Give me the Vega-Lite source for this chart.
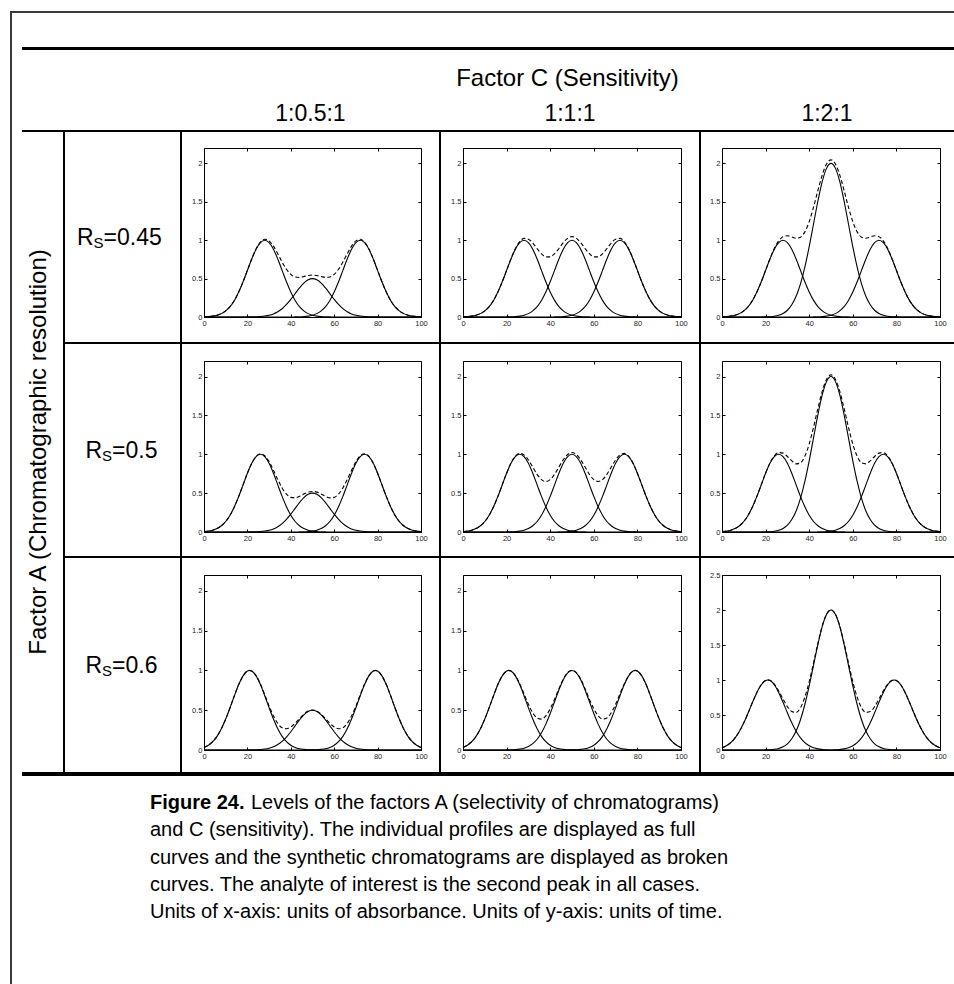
{
"$schema": "https://vega.github.io/schema/vega-lite/v6.json",
"padding": {"left": 10, "top": 11, "right": 0, "bottom": 0},
"background": "white",
"config": {
  "view": {"stroke": null},
  "concat": {"spacing": 0},
  "text": {"font": "Liberation Sans", "color": "black"},
  "axis": {"grid": false, "domainColor": "black", "domainWidth": 1, "tickColor": "black", "tickWidth": 1, "tickSize": -3, "labelFont": "Liberation Sans", "labelFontSize": 7.5, "labelColor": "#222", "labelPadding": 5, "labelFlush": false, "labelOverlap": false, "labelBound": false, "labelExpr": "'' + datum.value"}
},
"datasets": {"curves": [
{"r":1,"x":0,"a":0.002,"c":0,"m1":0,"m2":0,"m3":0,"s1":0.002,"s2":0.002,"s3":0.002},
{"r":1,"x":2,"a":0.005,"c":0,"m1":0,"m2":0,"m3":0,"s1":0.005,"s2":0.005,"s3":0.005},
{"r":1,"x":4,"a":0.011,"c":0,"m1":0,"m2":0,"m3":0,"s1":0.011,"s2":0.011,"s3":0.011},
{"r":1,"x":6,"a":0.023,"c":0,"m1":0,"m2":0,"m3":0,"s1":0.023,"s2":0.023,"s3":0.023},
{"r":1,"x":8,"a":0.044,"c":0,"m1":0,"m2":0,"m3":0,"s1":0.044,"s2":0.044,"s3":0.044},
{"r":1,"x":10,"a":0.08,"c":0,"m1":0,"m2":0,"m3":0,"s1":0.08,"s2":0.08,"s3":0.08},
{"r":1,"x":12,"a":0.135,"c":0,"m1":0,"m2":0,"m3":0,"s1":0.135,"s2":0.135,"s3":0.135},
{"r":1,"x":14,"a":0.216,"c":0,"m1":0,"m2":0,"m3":0,"s1":0.216,"s2":0.216,"s3":0.216},
{"r":1,"x":16,"a":0.325,"c":0,"m1":0,"m2":0,"m3":0,"s1":0.325,"s2":0.325,"s3":0.325},
{"r":1,"x":18,"a":0.458,"c":0,"m1":0,"m2":0,"m3":0,"s1":0.458,"s2":0.458,"s3":0.458},
{"r":1,"x":20,"a":0.607,"c":0,"m1":0.001,"m2":0.001,"m3":0.002,"s1":0.608,"s2":0.608,"s3":0.609},
{"r":1,"x":22,"a":0.755,"c":0,"m1":0.001,"m2":0.002,"m3":0.004,"s1":0.756,"s2":0.757,"s3":0.759},
{"r":1,"x":24,"a":0.883,"c":0,"m1":0.003,"m2":0.005,"m3":0.01,"s1":0.886,"s2":0.888,"s3":0.893},
{"r":1,"x":26,"a":0.969,"c":0,"m1":0.006,"m2":0.011,"m3":0.022,"s1":0.975,"s2":0.98,"s3":0.991},
{"r":1,"x":28,"a":1,"c":0,"m1":0.012,"m2":0.023,"m3":0.046,"s1":1.012,"s2":1.023,"s3":1.046},
{"r":1,"x":30,"a":0.969,"c":0,"m1":0.022,"m2":0.044,"m3":0.088,"s1":0.991,"s2":1.013,"s3":1.057},
{"r":1,"x":32,"a":0.883,"c":0,"m1":0.04,"m2":0.08,"m3":0.16,"s1":0.923,"s2":0.963,"s3":1.043},
{"r":1,"x":34,"a":0.755,"c":0,"m1":0.068,"m2":0.135,"m3":0.27,"s1":0.823,"s2":0.89,"s3":1.025},
{"r":1,"x":36,"a":0.607,"c":0,"m1":0.108,"m2":0.216,"m3":0.432,"s1":0.715,"s2":0.823,"s3":1.039},
{"r":1,"x":38,"a":0.458,"c":0,"m1":0.163,"m2":0.325,"m3":0.65,"s1":0.621,"s2":0.783,"s3":1.108},
{"r":1,"x":40,"a":0.325,"c":0,"m1":0.229,"m2":0.458,"m3":0.916,"s1":0.554,"s2":0.783,"s3":1.241},
{"r":1,"x":42,"a":0.216,"c":0.001,"m1":0.304,"m2":0.607,"m3":1.214,"s1":0.521,"s2":0.824,"s3":1.431},
{"r":1,"x":44,"a":0.135,"c":0.002,"m1":0.378,"m2":0.755,"m3":1.51,"s1":0.515,"s2":0.892,"s3":1.647},
{"r":1,"x":46,"a":0.08,"c":0.005,"m1":0.442,"m2":0.883,"m3":1.766,"s1":0.527,"s2":0.968,"s3":1.851},
{"r":1,"x":48,"a":0.044,"c":0.011,"m1":0.485,"m2":0.969,"m3":1.938,"s1":0.54,"s2":1.024,"s3":1.993},
{"r":1,"x":50,"a":0.023,"c":0.023,"m1":0.5,"m2":1,"m3":2,"s1":0.546,"s2":1.046,"s3":2.046},
{"r":1,"x":52,"a":0.011,"c":0.044,"m1":0.485,"m2":0.969,"m3":1.938,"s1":0.54,"s2":1.024,"s3":1.993},
{"r":1,"x":54,"a":0.005,"c":0.08,"m1":0.442,"m2":0.883,"m3":1.766,"s1":0.527,"s2":0.968,"s3":1.851},
{"r":1,"x":56,"a":0.002,"c":0.135,"m1":0.378,"m2":0.755,"m3":1.51,"s1":0.515,"s2":0.892,"s3":1.647},
{"r":1,"x":58,"a":0.001,"c":0.216,"m1":0.304,"m2":0.607,"m3":1.214,"s1":0.521,"s2":0.824,"s3":1.431},
{"r":1,"x":60,"a":0,"c":0.325,"m1":0.229,"m2":0.458,"m3":0.916,"s1":0.554,"s2":0.783,"s3":1.241},
{"r":1,"x":62,"a":0,"c":0.458,"m1":0.163,"m2":0.325,"m3":0.65,"s1":0.621,"s2":0.783,"s3":1.108},
{"r":1,"x":64,"a":0,"c":0.607,"m1":0.108,"m2":0.216,"m3":0.432,"s1":0.715,"s2":0.823,"s3":1.039},
{"r":1,"x":66,"a":0,"c":0.755,"m1":0.068,"m2":0.135,"m3":0.27,"s1":0.823,"s2":0.89,"s3":1.025},
{"r":1,"x":68,"a":0,"c":0.883,"m1":0.04,"m2":0.08,"m3":0.16,"s1":0.923,"s2":0.963,"s3":1.043},
{"r":1,"x":70,"a":0,"c":0.969,"m1":0.022,"m2":0.044,"m3":0.088,"s1":0.991,"s2":1.013,"s3":1.057},
{"r":1,"x":72,"a":0,"c":1,"m1":0.012,"m2":0.023,"m3":0.046,"s1":1.012,"s2":1.023,"s3":1.046},
{"r":1,"x":74,"a":0,"c":0.969,"m1":0.006,"m2":0.011,"m3":0.022,"s1":0.975,"s2":0.98,"s3":0.991},
{"r":1,"x":76,"a":0,"c":0.883,"m1":0.003,"m2":0.005,"m3":0.01,"s1":0.886,"s2":0.888,"s3":0.893},
{"r":1,"x":78,"a":0,"c":0.755,"m1":0.001,"m2":0.002,"m3":0.004,"s1":0.756,"s2":0.757,"s3":0.759},
{"r":1,"x":80,"a":0,"c":0.607,"m1":0.001,"m2":0.001,"m3":0.002,"s1":0.608,"s2":0.608,"s3":0.609},
{"r":1,"x":82,"a":0,"c":0.458,"m1":0,"m2":0,"m3":0,"s1":0.458,"s2":0.458,"s3":0.458},
{"r":1,"x":84,"a":0,"c":0.325,"m1":0,"m2":0,"m3":0,"s1":0.325,"s2":0.325,"s3":0.325},
{"r":1,"x":86,"a":0,"c":0.216,"m1":0,"m2":0,"m3":0,"s1":0.216,"s2":0.216,"s3":0.216},
{"r":1,"x":88,"a":0,"c":0.135,"m1":0,"m2":0,"m3":0,"s1":0.135,"s2":0.135,"s3":0.135},
{"r":1,"x":90,"a":0,"c":0.08,"m1":0,"m2":0,"m3":0,"s1":0.08,"s2":0.08,"s3":0.08},
{"r":1,"x":92,"a":0,"c":0.044,"m1":0,"m2":0,"m3":0,"s1":0.044,"s2":0.044,"s3":0.044},
{"r":1,"x":94,"a":0,"c":0.023,"m1":0,"m2":0,"m3":0,"s1":0.023,"s2":0.023,"s3":0.023},
{"r":1,"x":96,"a":0,"c":0.011,"m1":0,"m2":0,"m3":0,"s1":0.011,"s2":0.011,"s3":0.011},
{"r":1,"x":98,"a":0,"c":0.005,"m1":0,"m2":0,"m3":0,"s1":0.005,"s2":0.005,"s3":0.005},
{"r":1,"x":100,"a":0,"c":0.002,"m1":0,"m2":0,"m3":0,"s1":0.002,"s2":0.002,"s3":0.002},
{"r":2,"x":0,"a":0.005,"c":0,"m1":0,"m2":0,"m3":0,"s1":0.005,"s2":0.005,"s3":0.005},
{"r":2,"x":2,"a":0.011,"c":0,"m1":0,"m2":0,"m3":0,"s1":0.011,"s2":0.011,"s3":0.011},
{"r":2,"x":4,"a":0.023,"c":0,"m1":0,"m2":0,"m3":0,"s1":0.023,"s2":0.023,"s3":0.023},
{"r":2,"x":6,"a":0.044,"c":0,"m1":0,"m2":0,"m3":0,"s1":0.044,"s2":0.044,"s3":0.044},
{"r":2,"x":8,"a":0.08,"c":0,"m1":0,"m2":0,"m3":0,"s1":0.08,"s2":0.08,"s3":0.08},
{"r":2,"x":10,"a":0.135,"c":0,"m1":0,"m2":0,"m3":0,"s1":0.135,"s2":0.135,"s3":0.135},
{"r":2,"x":12,"a":0.216,"c":0,"m1":0,"m2":0,"m3":0,"s1":0.216,"s2":0.216,"s3":0.216},
{"r":2,"x":14,"a":0.325,"c":0,"m1":0,"m2":0,"m3":0,"s1":0.325,"s2":0.325,"s3":0.325},
{"r":2,"x":16,"a":0.458,"c":0,"m1":0,"m2":0,"m3":0,"s1":0.458,"s2":0.458,"s3":0.458},
{"r":2,"x":18,"a":0.607,"c":0,"m1":0,"m2":0,"m3":0,"s1":0.607,"s2":0.607,"s3":0.607},
{"r":2,"x":20,"a":0.755,"c":0,"m1":0.001,"m2":0.001,"m3":0.002,"s1":0.756,"s2":0.756,"s3":0.757},
{"r":2,"x":22,"a":0.883,"c":0,"m1":0.001,"m2":0.002,"m3":0.004,"s1":0.884,"s2":0.885,"s3":0.887},
{"r":2,"x":24,"a":0.969,"c":0,"m1":0.003,"m2":0.005,"m3":0.01,"s1":0.972,"s2":0.974,"s3":0.979},
{"r":2,"x":26,"a":1,"c":0,"m1":0.006,"m2":0.011,"m3":0.022,"s1":1.006,"s2":1.011,"s3":1.022},
{"r":2,"x":28,"a":0.969,"c":0,"m1":0.012,"m2":0.023,"m3":0.046,"s1":0.981,"s2":0.992,"s3":1.015},
{"r":2,"x":30,"a":0.883,"c":0,"m1":0.022,"m2":0.044,"m3":0.088,"s1":0.905,"s2":0.927,"s3":0.971},
{"r":2,"x":32,"a":0.755,"c":0,"m1":0.04,"m2":0.08,"m3":0.16,"s1":0.795,"s2":0.835,"s3":0.915},
{"r":2,"x":34,"a":0.607,"c":0,"m1":0.068,"m2":0.135,"m3":0.27,"s1":0.675,"s2":0.742,"s3":0.877},
{"r":2,"x":36,"a":0.458,"c":0,"m1":0.108,"m2":0.216,"m3":0.432,"s1":0.566,"s2":0.674,"s3":0.89},
{"r":2,"x":38,"a":0.325,"c":0,"m1":0.163,"m2":0.325,"m3":0.65,"s1":0.488,"s2":0.65,"s3":0.975},
{"r":2,"x":40,"a":0.216,"c":0,"m1":0.229,"m2":0.458,"m3":0.916,"s1":0.445,"s2":0.674,"s3":1.132},
{"r":2,"x":42,"a":0.135,"c":0,"m1":0.304,"m2":0.607,"m3":1.214,"s1":0.439,"s2":0.742,"s3":1.349},
{"r":2,"x":44,"a":0.08,"c":0.001,"m1":0.378,"m2":0.755,"m3":1.51,"s1":0.459,"s2":0.836,"s3":1.591},
{"r":2,"x":46,"a":0.044,"c":0.002,"m1":0.442,"m2":0.883,"m3":1.766,"s1":0.488,"s2":0.929,"s3":1.812},
{"r":2,"x":48,"a":0.023,"c":0.005,"m1":0.485,"m2":0.969,"m3":1.938,"s1":0.513,"s2":0.997,"s3":1.966},
{"r":2,"x":50,"a":0.011,"c":0.011,"m1":0.5,"m2":1,"m3":2,"s1":0.522,"s2":1.022,"s3":2.022},
{"r":2,"x":52,"a":0.005,"c":0.023,"m1":0.485,"m2":0.969,"m3":1.938,"s1":0.513,"s2":0.997,"s3":1.966},
{"r":2,"x":54,"a":0.002,"c":0.044,"m1":0.442,"m2":0.883,"m3":1.766,"s1":0.488,"s2":0.929,"s3":1.812},
{"r":2,"x":56,"a":0.001,"c":0.08,"m1":0.378,"m2":0.755,"m3":1.51,"s1":0.459,"s2":0.836,"s3":1.591},
{"r":2,"x":58,"a":0,"c":0.135,"m1":0.304,"m2":0.607,"m3":1.214,"s1":0.439,"s2":0.742,"s3":1.349},
{"r":2,"x":60,"a":0,"c":0.216,"m1":0.229,"m2":0.458,"m3":0.916,"s1":0.445,"s2":0.674,"s3":1.132},
{"r":2,"x":62,"a":0,"c":0.325,"m1":0.163,"m2":0.325,"m3":0.65,"s1":0.488,"s2":0.65,"s3":0.975},
{"r":2,"x":64,"a":0,"c":0.458,"m1":0.108,"m2":0.216,"m3":0.432,"s1":0.566,"s2":0.674,"s3":0.89},
{"r":2,"x":66,"a":0,"c":0.607,"m1":0.068,"m2":0.135,"m3":0.27,"s1":0.675,"s2":0.742,"s3":0.877},
{"r":2,"x":68,"a":0,"c":0.755,"m1":0.04,"m2":0.08,"m3":0.16,"s1":0.795,"s2":0.835,"s3":0.915},
{"r":2,"x":70,"a":0,"c":0.883,"m1":0.022,"m2":0.044,"m3":0.088,"s1":0.905,"s2":0.927,"s3":0.971},
{"r":2,"x":72,"a":0,"c":0.969,"m1":0.012,"m2":0.023,"m3":0.046,"s1":0.981,"s2":0.992,"s3":1.015},
{"r":2,"x":74,"a":0,"c":1,"m1":0.006,"m2":0.011,"m3":0.022,"s1":1.006,"s2":1.011,"s3":1.022},
{"r":2,"x":76,"a":0,"c":0.969,"m1":0.003,"m2":0.005,"m3":0.01,"s1":0.972,"s2":0.974,"s3":0.979},
{"r":2,"x":78,"a":0,"c":0.883,"m1":0.001,"m2":0.002,"m3":0.004,"s1":0.884,"s2":0.885,"s3":0.887},
{"r":2,"x":80,"a":0,"c":0.755,"m1":0.001,"m2":0.001,"m3":0.002,"s1":0.756,"s2":0.756,"s3":0.757},
{"r":2,"x":82,"a":0,"c":0.607,"m1":0,"m2":0,"m3":0,"s1":0.607,"s2":0.607,"s3":0.607},
{"r":2,"x":84,"a":0,"c":0.458,"m1":0,"m2":0,"m3":0,"s1":0.458,"s2":0.458,"s3":0.458},
{"r":2,"x":86,"a":0,"c":0.325,"m1":0,"m2":0,"m3":0,"s1":0.325,"s2":0.325,"s3":0.325},
{"r":2,"x":88,"a":0,"c":0.216,"m1":0,"m2":0,"m3":0,"s1":0.216,"s2":0.216,"s3":0.216},
{"r":2,"x":90,"a":0,"c":0.135,"m1":0,"m2":0,"m3":0,"s1":0.135,"s2":0.135,"s3":0.135},
{"r":2,"x":92,"a":0,"c":0.08,"m1":0,"m2":0,"m3":0,"s1":0.08,"s2":0.08,"s3":0.08},
{"r":2,"x":94,"a":0,"c":0.044,"m1":0,"m2":0,"m3":0,"s1":0.044,"s2":0.044,"s3":0.044},
{"r":2,"x":96,"a":0,"c":0.023,"m1":0,"m2":0,"m3":0,"s1":0.023,"s2":0.023,"s3":0.023},
{"r":2,"x":98,"a":0,"c":0.011,"m1":0,"m2":0,"m3":0,"s1":0.011,"s2":0.011,"s3":0.011},
{"r":2,"x":100,"a":0,"c":0.005,"m1":0,"m2":0,"m3":0,"s1":0.005,"s2":0.005,"s3":0.005},
{"r":3,"x":0,"a":0.032,"c":0,"m1":0,"m2":0,"m3":0,"s1":0.032,"s2":0.032,"s3":0.032},
{"r":3,"x":2,"a":0.06,"c":0,"m1":0,"m2":0,"m3":0,"s1":0.06,"s2":0.06,"s3":0.06},
{"r":3,"x":4,"a":0.105,"c":0,"m1":0,"m2":0,"m3":0,"s1":0.105,"s2":0.105,"s3":0.105},
{"r":3,"x":6,"a":0.172,"c":0,"m1":0,"m2":0,"m3":0,"s1":0.172,"s2":0.172,"s3":0.172},
{"r":3,"x":8,"a":0.267,"c":0,"m1":0,"m2":0,"m3":0,"s1":0.267,"s2":0.267,"s3":0.267},
{"r":3,"x":10,"a":0.389,"c":0,"m1":0,"m2":0,"m3":0,"s1":0.389,"s2":0.389,"s3":0.389},
{"r":3,"x":12,"a":0.531,"c":0,"m1":0,"m2":0,"m3":0,"s1":0.531,"s2":0.531,"s3":0.531},
{"r":3,"x":14,"a":0.682,"c":0,"m1":0,"m2":0,"m3":0,"s1":0.682,"s2":0.682,"s3":0.682},
{"r":3,"x":16,"a":0.823,"c":0,"m1":0,"m2":0,"m3":0,"s1":0.823,"s2":0.823,"s3":0.823},
{"r":3,"x":18,"a":0.932,"c":0,"m1":0,"m2":0,"m3":0,"s1":0.932,"s2":0.932,"s3":0.932},
{"r":3,"x":20,"a":0.992,"c":0,"m1":0.001,"m2":0.001,"m3":0.002,"s1":0.993,"s2":0.993,"s3":0.994},
{"r":3,"x":21,"a":1,"c":0,"m1":0.001,"m2":0.001,"m3":0.002,"s1":1.001,"s2":1.001,"s3":1.002},
{"r":3,"x":22,"a":0.992,"c":0,"m1":0.001,"m2":0.002,"m3":0.004,"s1":0.993,"s2":0.994,"s3":0.996},
{"r":3,"x":24,"a":0.932,"c":0,"m1":0.003,"m2":0.005,"m3":0.01,"s1":0.935,"s2":0.937,"s3":0.942},
{"r":3,"x":26,"a":0.823,"c":0,"m1":0.006,"m2":0.011,"m3":0.022,"s1":0.829,"s2":0.834,"s3":0.845},
{"r":3,"x":28,"a":0.682,"c":0,"m1":0.012,"m2":0.023,"m3":0.046,"s1":0.694,"s2":0.705,"s3":0.728},
{"r":3,"x":30,"a":0.531,"c":0,"m1":0.022,"m2":0.044,"m3":0.088,"s1":0.553,"s2":0.575,"s3":0.619},
{"r":3,"x":32,"a":0.389,"c":0,"m1":0.04,"m2":0.08,"m3":0.16,"s1":0.429,"s2":0.469,"s3":0.549},
{"r":3,"x":34,"a":0.267,"c":0,"m1":0.068,"m2":0.135,"m3":0.27,"s1":0.335,"s2":0.402,"s3":0.537},
{"r":3,"x":36,"a":0.172,"c":0,"m1":0.108,"m2":0.216,"m3":0.432,"s1":0.28,"s2":0.388,"s3":0.604},
{"r":3,"x":38,"a":0.105,"c":0,"m1":0.163,"m2":0.325,"m3":0.65,"s1":0.268,"s2":0.43,"s3":0.755},
{"r":3,"x":40,"a":0.06,"c":0,"m1":0.229,"m2":0.458,"m3":0.916,"s1":0.289,"s2":0.518,"s3":0.976},
{"r":3,"x":42,"a":0.032,"c":0,"m1":0.304,"m2":0.607,"m3":1.214,"s1":0.336,"s2":0.639,"s3":1.246},
{"r":3,"x":44,"a":0.016,"c":0,"m1":0.378,"m2":0.755,"m3":1.51,"s1":0.394,"s2":0.771,"s3":1.526},
{"r":3,"x":46,"a":0.008,"c":0,"m1":0.442,"m2":0.883,"m3":1.766,"s1":0.45,"s2":0.891,"s3":1.774},
{"r":3,"x":48,"a":0.003,"c":0.001,"m1":0.485,"m2":0.969,"m3":1.938,"s1":0.489,"s2":0.973,"s3":1.942},
{"r":3,"x":50,"a":0.001,"c":0.001,"m1":0.5,"m2":1,"m3":2,"s1":0.502,"s2":1.002,"s3":2.002},
{"r":3,"x":52,"a":0.001,"c":0.003,"m1":0.485,"m2":0.969,"m3":1.938,"s1":0.489,"s2":0.973,"s3":1.942},
{"r":3,"x":54,"a":0,"c":0.008,"m1":0.442,"m2":0.883,"m3":1.766,"s1":0.45,"s2":0.891,"s3":1.774},
{"r":3,"x":56,"a":0,"c":0.016,"m1":0.378,"m2":0.755,"m3":1.51,"s1":0.394,"s2":0.771,"s3":1.526},
{"r":3,"x":58,"a":0,"c":0.032,"m1":0.304,"m2":0.607,"m3":1.214,"s1":0.336,"s2":0.639,"s3":1.246},
{"r":3,"x":60,"a":0,"c":0.06,"m1":0.229,"m2":0.458,"m3":0.916,"s1":0.289,"s2":0.518,"s3":0.976},
{"r":3,"x":62,"a":0,"c":0.105,"m1":0.163,"m2":0.325,"m3":0.65,"s1":0.268,"s2":0.43,"s3":0.755},
{"r":3,"x":64,"a":0,"c":0.172,"m1":0.108,"m2":0.216,"m3":0.432,"s1":0.28,"s2":0.388,"s3":0.604},
{"r":3,"x":66,"a":0,"c":0.267,"m1":0.068,"m2":0.135,"m3":0.27,"s1":0.335,"s2":0.402,"s3":0.537},
{"r":3,"x":68,"a":0,"c":0.389,"m1":0.04,"m2":0.08,"m3":0.16,"s1":0.429,"s2":0.469,"s3":0.549},
{"r":3,"x":70,"a":0,"c":0.531,"m1":0.022,"m2":0.044,"m3":0.088,"s1":0.553,"s2":0.575,"s3":0.619},
{"r":3,"x":72,"a":0,"c":0.682,"m1":0.012,"m2":0.023,"m3":0.046,"s1":0.694,"s2":0.705,"s3":0.728},
{"r":3,"x":74,"a":0,"c":0.823,"m1":0.006,"m2":0.011,"m3":0.022,"s1":0.829,"s2":0.834,"s3":0.845},
{"r":3,"x":76,"a":0,"c":0.932,"m1":0.003,"m2":0.005,"m3":0.01,"s1":0.935,"s2":0.937,"s3":0.942},
{"r":3,"x":78,"a":0,"c":0.992,"m1":0.001,"m2":0.002,"m3":0.004,"s1":0.993,"s2":0.994,"s3":0.996},
{"r":3,"x":79,"a":0,"c":1,"m1":0.001,"m2":0.001,"m3":0.002,"s1":1.001,"s2":1.001,"s3":1.002},
{"r":3,"x":80,"a":0,"c":0.992,"m1":0.001,"m2":0.001,"m3":0.002,"s1":0.993,"s2":0.993,"s3":0.994},
{"r":3,"x":82,"a":0,"c":0.932,"m1":0,"m2":0,"m3":0,"s1":0.932,"s2":0.932,"s3":0.932},
{"r":3,"x":84,"a":0,"c":0.823,"m1":0,"m2":0,"m3":0,"s1":0.823,"s2":0.823,"s3":0.823},
{"r":3,"x":86,"a":0,"c":0.682,"m1":0,"m2":0,"m3":0,"s1":0.682,"s2":0.682,"s3":0.682},
{"r":3,"x":88,"a":0,"c":0.531,"m1":0,"m2":0,"m3":0,"s1":0.531,"s2":0.531,"s3":0.531},
{"r":3,"x":90,"a":0,"c":0.389,"m1":0,"m2":0,"m3":0,"s1":0.389,"s2":0.389,"s3":0.389},
{"r":3,"x":92,"a":0,"c":0.267,"m1":0,"m2":0,"m3":0,"s1":0.267,"s2":0.267,"s3":0.267},
{"r":3,"x":94,"a":0,"c":0.172,"m1":0,"m2":0,"m3":0,"s1":0.172,"s2":0.172,"s3":0.172},
{"r":3,"x":96,"a":0,"c":0.105,"m1":0,"m2":0,"m3":0,"s1":0.105,"s2":0.105,"s3":0.105},
{"r":3,"x":98,"a":0,"c":0.06,"m1":0,"m2":0,"m3":0,"s1":0.06,"s2":0.06,"s3":0.06},
{"r":3,"x":100,"a":0,"c":0.032,"m1":0,"m2":0,"m3":0,"s1":0.032,"s2":0.032,"s3":0.032}
]},
"spacing": 0,
"hconcat": [
 {"width": 2, "height": 973, "data": {"values": []}, "mark": "text", "encoding": {"text": {"value": ""}}, "view": {"fill": "#3a3a3a", "stroke": null}},
 {"spacing": 0, "vconcat": [
  {"width": 942, "height": 2, "data": {"values": []}, "mark": "text", "encoding": {"text": {"value": ""}}, "view": {"fill": "#3a3a3a", "stroke": null}},
  {"width": 942, "height": 34, "data": {"values": []}, "mark": "text", "encoding": {"text": {"value": ""}}},
  {"spacing": 0, "hconcat": [
   {"width": 10, "height": 3, "data": {"values": []}, "mark": "text", "encoding": {"text": {"value": ""}}},
   {"width": 932, "height": 3, "data": {"values": []}, "mark": "text", "encoding": {"text": {"value": ""}}, "view": {"fill": "black", "stroke": null}}
  ]},
  {"spacing": 0, "hconcat": [
   {"width": 169, "height": 80, "data": {"values": []}, "mark": "text", "encoding": {"text": {"value": ""}}},
   {"spacing": 0, "vconcat": [
    {"width": 773, "height": 47, "data": {"values": [{"t": "Factor C (Sensitivity)"}]}, "mark": {"type": "text", "fontSize": 24, "baseline": "alphabetic", "dy": 12}, "encoding": {"text": {"field": "t"}}},
    {"spacing": 0, "hconcat": [
     {"width": 259, "height": 33, "data": {"values": [{"t": "1:0.5:1"}]}, "mark": {"type": "text", "fontSize": 23, "baseline": "alphabetic", "dy": 7.5}, "encoding": {"text": {"field": "t"}}},
     {"width": 260, "height": 33, "data": {"values": [{"t": "1:1:1"}]}, "mark": {"type": "text", "fontSize": 23, "baseline": "alphabetic", "dy": 7.5}, "encoding": {"text": {"field": "t"}}},
     {"width": 254, "height": 33, "data": {"values": [{"t": "1:2:1"}]}, "mark": {"type": "text", "fontSize": 23, "baseline": "alphabetic", "dy": 7.5}, "encoding": {"text": {"field": "t"}}}
    ]}
   ]}
  ]},
  {"spacing": 0, "hconcat": [
   {"width": 10, "height": 2, "data": {"values": []}, "mark": "text", "encoding": {"text": {"value": ""}}},
   {"width": 932, "height": 2, "data": {"values": []}, "mark": "text", "encoding": {"text": {"value": ""}}, "view": {"fill": "black", "stroke": null}}
  ]},
  {"spacing": 0, "hconcat": [
   {"width": 10, "height": 640, "data": {"values": []}, "mark": "text", "encoding": {"text": {"value": ""}}},
   {"width": 41, "height": 640, "data": {"values": [{"t": "Factor A (Chromatographic resolution)"}]}, "mark": {"type": "text", "fontSize": 24, "angle": 270, "baseline": "middle", "dy": -3.5}, "encoding": {"text": {"field": "t"}}},
   {"width": 2, "height": 640, "data": {"values": []}, "mark": "text", "encoding": {"text": {"value": ""}}, "view": {"fill": "black", "stroke": null}},
   {"spacing": 0, "vconcat": [
    {"spacing": 0, "hconcat": [
     {"width": 115, "height": 210, "data": {"values": [{"m": "R", "s": "S", "v": "=0.45"}]}, "layer": [
      {"mark": {"type": "text", "fontSize": 23, "align": "left", "baseline": "alphabetic", "dx": -45.5, "dy": 8}, "encoding": {"text": {"field": "m"}}},
      {"mark": {"type": "text", "fontSize": 15, "align": "left", "baseline": "alphabetic", "dx": -28.9, "dy": 11}, "encoding": {"text": {"field": "s"}}},
      {"mark": {"type": "text", "fontSize": 23, "align": "left", "baseline": "alphabetic", "dx": -18.9, "dy": 8}, "encoding": {"text": {"field": "v"}}}
     ]},
     {"width": 2, "height": 210, "data": {"values": []}, "mark": "text", "encoding": {"text": {"value": ""}}, "view": {"fill": "black", "stroke": null}},
     {"width": 257, "height": 210, "data": {"name": "curves"}, "transform": [{"filter": "datum.r == 1"}], "layer": [
      {"transform": [{"fold": ["a", "c", "m1"], "as": ["peak", "val"]}], "mark": {"type": "line", "color": "black", "strokeWidth": 1.1, "interpolate": "monotone"}, "encoding": {
        "x": {"field": "x", "type": "quantitative", "scale": {"domain": [0, 100], "range": [22, 239], "nice": false, "zero": false}, "axis": {"orient": "bottom", "offset": -25, "values": [0, 20, 40, 60, 80, 100], "title": null}},
        "y": {"field": "val", "type": "quantitative", "scale": {"domain": [0, 2.2], "range": [185, 16], "nice": false, "zero": false}, "axis": {"orient": "left", "offset": -22, "values": [0, 0.5, 1, 1.5, 2], "title": null}},
        "detail": {"field": "peak"}}},
      {"mark": {"type": "line", "color": "black", "strokeWidth": 1.1, "strokeDash": [4, 2.5], "interpolate": "monotone"}, "encoding": {
        "x": {"field": "x", "type": "quantitative", "scale": {"domain": [0, 100], "range": [22, 239], "nice": false, "zero": false}, "axis": {"orient": "top", "offset": -16, "values": [0, 20, 40, 60, 80, 100], "labels": false, "title": null}},
        "y": {"field": "s1", "type": "quantitative", "scale": {"domain": [0, 2.2], "range": [185, 16], "nice": false, "zero": false}, "axis": {"orient": "right", "offset": -18, "values": [0, 0.5, 1, 1.5, 2], "labels": false, "title": null}}}}
     ], "resolve": {"axis": {"x": "independent", "y": "independent"}}},
     {"width": 2, "height": 210, "data": {"values": []}, "mark": "text", "encoding": {"text": {"value": ""}}, "view": {"fill": "black", "stroke": null}},
     {"width": 258, "height": 210, "data": {"name": "curves"}, "transform": [{"filter": "datum.r == 1"}], "layer": [
      {"transform": [{"fold": ["a", "c", "m2"], "as": ["peak", "val"]}], "mark": {"type": "line", "color": "black", "strokeWidth": 1.1, "interpolate": "monotone"}, "encoding": {
        "x": {"field": "x", "type": "quantitative", "scale": {"domain": [0, 100], "range": [22, 240], "nice": false, "zero": false}, "axis": {"orient": "bottom", "offset": -25, "values": [0, 20, 40, 60, 80, 100], "title": null}},
        "y": {"field": "val", "type": "quantitative", "scale": {"domain": [0, 2.2], "range": [185, 16], "nice": false, "zero": false}, "axis": {"orient": "left", "offset": -22, "values": [0, 0.5, 1, 1.5, 2], "title": null}},
        "detail": {"field": "peak"}}},
      {"mark": {"type": "line", "color": "black", "strokeWidth": 1.1, "strokeDash": [4, 2.5], "interpolate": "monotone"}, "encoding": {
        "x": {"field": "x", "type": "quantitative", "scale": {"domain": [0, 100], "range": [22, 240], "nice": false, "zero": false}, "axis": {"orient": "top", "offset": -16, "values": [0, 20, 40, 60, 80, 100], "labels": false, "title": null}},
        "y": {"field": "s2", "type": "quantitative", "scale": {"domain": [0, 2.2], "range": [185, 16], "nice": false, "zero": false}, "axis": {"orient": "right", "offset": -18, "values": [0, 0.5, 1, 1.5, 2], "labels": false, "title": null}}}}
     ], "resolve": {"axis": {"x": "independent", "y": "independent"}}},
     {"width": 2, "height": 210, "data": {"values": []}, "mark": "text", "encoding": {"text": {"value": ""}}, "view": {"fill": "black", "stroke": null}},
     {"width": 253, "height": 210, "data": {"name": "curves"}, "transform": [{"filter": "datum.r == 1"}], "layer": [
      {"transform": [{"fold": ["a", "c", "m3"], "as": ["peak", "val"]}], "mark": {"type": "line", "color": "black", "strokeWidth": 1.1, "interpolate": "monotone"}, "encoding": {
        "x": {"field": "x", "type": "quantitative", "scale": {"domain": [0, 100], "range": [21, 239], "nice": false, "zero": false}, "axis": {"orient": "bottom", "offset": -25, "values": [0, 20, 40, 60, 80, 100], "title": null}},
        "y": {"field": "val", "type": "quantitative", "scale": {"domain": [0, 2.2], "range": [185, 16], "nice": false, "zero": false}, "axis": {"orient": "left", "offset": -21, "values": [0, 0.5, 1, 1.5, 2], "title": null}},
        "detail": {"field": "peak"}}},
      {"mark": {"type": "line", "color": "black", "strokeWidth": 1.1, "strokeDash": [4, 2.5], "interpolate": "monotone"}, "encoding": {
        "x": {"field": "x", "type": "quantitative", "scale": {"domain": [0, 100], "range": [21, 239], "nice": false, "zero": false}, "axis": {"orient": "top", "offset": -16, "values": [0, 20, 40, 60, 80, 100], "labels": false, "title": null}},
        "y": {"field": "s3", "type": "quantitative", "scale": {"domain": [0, 2.2], "range": [185, 16], "nice": false, "zero": false}, "axis": {"orient": "right", "offset": -14, "values": [0, 0.5, 1, 1.5, 2], "labels": false, "title": null}}}}
     ], "resolve": {"axis": {"x": "independent", "y": "independent"}}}
    ]},
    {"width": 889, "height": 2, "data": {"values": []}, "mark": "text", "encoding": {"text": {"value": ""}}, "view": {"fill": "black", "stroke": null}},
    {"spacing": 0, "hconcat": [
     {"width": 115, "height": 212, "data": {"values": [{"m": "R", "s": "S", "v": "=0.5"}]}, "layer": [
      {"mark": {"type": "text", "fontSize": 23, "align": "left", "baseline": "alphabetic", "dx": -37, "dy": 8}, "encoding": {"text": {"field": "m"}}},
      {"mark": {"type": "text", "fontSize": 15, "align": "left", "baseline": "alphabetic", "dx": -20.4, "dy": 11}, "encoding": {"text": {"field": "s"}}},
      {"mark": {"type": "text", "fontSize": 23, "align": "left", "baseline": "alphabetic", "dx": -10.4, "dy": 8}, "encoding": {"text": {"field": "v"}}}
     ]},
     {"width": 2, "height": 212, "data": {"values": []}, "mark": "text", "encoding": {"text": {"value": ""}}, "view": {"fill": "black", "stroke": null}},
     {"width": 257, "height": 212, "data": {"name": "curves"}, "transform": [{"filter": "datum.r == 2"}], "layer": [
      {"transform": [{"fold": ["a", "c", "m1"], "as": ["peak", "val"]}], "mark": {"type": "line", "color": "black", "strokeWidth": 1.1, "interpolate": "monotone"}, "encoding": {
        "x": {"field": "x", "type": "quantitative", "scale": {"domain": [0, 100], "range": [22, 239], "nice": false, "zero": false}, "axis": {"orient": "bottom", "offset": -24, "values": [0, 20, 40, 60, 80, 100], "title": null}},
        "y": {"field": "val", "type": "quantitative", "scale": {"domain": [0, 2.2], "range": [188, 17], "nice": false, "zero": false}, "axis": {"orient": "left", "offset": -22, "values": [0, 0.5, 1, 1.5, 2], "title": null}},
        "detail": {"field": "peak"}}},
      {"mark": {"type": "line", "color": "black", "strokeWidth": 1.1, "strokeDash": [4, 2.5], "interpolate": "monotone"}, "encoding": {
        "x": {"field": "x", "type": "quantitative", "scale": {"domain": [0, 100], "range": [22, 239], "nice": false, "zero": false}, "axis": {"orient": "top", "offset": -17, "values": [0, 20, 40, 60, 80, 100], "labels": false, "title": null}},
        "y": {"field": "s1", "type": "quantitative", "scale": {"domain": [0, 2.2], "range": [188, 17], "nice": false, "zero": false}, "axis": {"orient": "right", "offset": -18, "values": [0, 0.5, 1, 1.5, 2], "labels": false, "title": null}}}}
     ], "resolve": {"axis": {"x": "independent", "y": "independent"}}},
     {"width": 2, "height": 212, "data": {"values": []}, "mark": "text", "encoding": {"text": {"value": ""}}, "view": {"fill": "black", "stroke": null}},
     {"width": 258, "height": 212, "data": {"name": "curves"}, "transform": [{"filter": "datum.r == 2"}], "layer": [
      {"transform": [{"fold": ["a", "c", "m2"], "as": ["peak", "val"]}], "mark": {"type": "line", "color": "black", "strokeWidth": 1.1, "interpolate": "monotone"}, "encoding": {
        "x": {"field": "x", "type": "quantitative", "scale": {"domain": [0, 100], "range": [22, 240], "nice": false, "zero": false}, "axis": {"orient": "bottom", "offset": -24, "values": [0, 20, 40, 60, 80, 100], "title": null}},
        "y": {"field": "val", "type": "quantitative", "scale": {"domain": [0, 2.2], "range": [188, 17], "nice": false, "zero": false}, "axis": {"orient": "left", "offset": -22, "values": [0, 0.5, 1, 1.5, 2], "title": null}},
        "detail": {"field": "peak"}}},
      {"mark": {"type": "line", "color": "black", "strokeWidth": 1.1, "strokeDash": [4, 2.5], "interpolate": "monotone"}, "encoding": {
        "x": {"field": "x", "type": "quantitative", "scale": {"domain": [0, 100], "range": [22, 240], "nice": false, "zero": false}, "axis": {"orient": "top", "offset": -17, "values": [0, 20, 40, 60, 80, 100], "labels": false, "title": null}},
        "y": {"field": "s2", "type": "quantitative", "scale": {"domain": [0, 2.2], "range": [188, 17], "nice": false, "zero": false}, "axis": {"orient": "right", "offset": -18, "values": [0, 0.5, 1, 1.5, 2], "labels": false, "title": null}}}}
     ], "resolve": {"axis": {"x": "independent", "y": "independent"}}},
     {"width": 2, "height": 212, "data": {"values": []}, "mark": "text", "encoding": {"text": {"value": ""}}, "view": {"fill": "black", "stroke": null}},
     {"width": 253, "height": 212, "data": {"name": "curves"}, "transform": [{"filter": "datum.r == 2"}], "layer": [
      {"transform": [{"fold": ["a", "c", "m3"], "as": ["peak", "val"]}], "mark": {"type": "line", "color": "black", "strokeWidth": 1.1, "interpolate": "monotone"}, "encoding": {
        "x": {"field": "x", "type": "quantitative", "scale": {"domain": [0, 100], "range": [21, 239], "nice": false, "zero": false}, "axis": {"orient": "bottom", "offset": -24, "values": [0, 20, 40, 60, 80, 100], "title": null}},
        "y": {"field": "val", "type": "quantitative", "scale": {"domain": [0, 2.2], "range": [188, 17], "nice": false, "zero": false}, "axis": {"orient": "left", "offset": -21, "values": [0, 0.5, 1, 1.5, 2], "title": null}},
        "detail": {"field": "peak"}}},
      {"mark": {"type": "line", "color": "black", "strokeWidth": 1.1, "strokeDash": [4, 2.5], "interpolate": "monotone"}, "encoding": {
        "x": {"field": "x", "type": "quantitative", "scale": {"domain": [0, 100], "range": [21, 239], "nice": false, "zero": false}, "axis": {"orient": "top", "offset": -17, "values": [0, 20, 40, 60, 80, 100], "labels": false, "title": null}},
        "y": {"field": "s3", "type": "quantitative", "scale": {"domain": [0, 2.2], "range": [188, 17], "nice": false, "zero": false}, "axis": {"orient": "right", "offset": -14, "values": [0, 0.5, 1, 1.5, 2], "labels": false, "title": null}}}}
     ], "resolve": {"axis": {"x": "independent", "y": "independent"}}}
    ]},
    {"width": 889, "height": 2, "data": {"values": []}, "mark": "text", "encoding": {"text": {"value": ""}}, "view": {"fill": "black", "stroke": null}},
    {"spacing": 0, "hconcat": [
     {"width": 115, "height": 214, "data": {"values": [{"m": "R", "s": "S", "v": "=0.6"}]}, "layer": [
      {"mark": {"type": "text", "fontSize": 23, "align": "left", "baseline": "alphabetic", "dx": -37, "dy": 8}, "encoding": {"text": {"field": "m"}}},
      {"mark": {"type": "text", "fontSize": 15, "align": "left", "baseline": "alphabetic", "dx": -20.4, "dy": 11}, "encoding": {"text": {"field": "s"}}},
      {"mark": {"type": "text", "fontSize": 23, "align": "left", "baseline": "alphabetic", "dx": -10.4, "dy": 8}, "encoding": {"text": {"field": "v"}}}
     ]},
     {"width": 2, "height": 214, "data": {"values": []}, "mark": "text", "encoding": {"text": {"value": ""}}, "view": {"fill": "black", "stroke": null}},
     {"width": 257, "height": 214, "data": {"name": "curves"}, "transform": [{"filter": "datum.r == 3"}], "layer": [
      {"transform": [{"fold": ["a", "c", "m1"], "as": ["peak", "val"]}], "mark": {"type": "line", "color": "black", "strokeWidth": 1.1, "interpolate": "monotone"}, "encoding": {
        "x": {"field": "x", "type": "quantitative", "scale": {"domain": [0, 100], "range": [22, 239], "nice": false, "zero": false}, "axis": {"orient": "bottom", "offset": -22, "values": [0, 20, 40, 60, 80, 100], "title": null}},
        "y": {"field": "val", "type": "quantitative", "scale": {"domain": [0, 2.2], "range": [192, 17], "nice": false, "zero": false}, "axis": {"orient": "left", "offset": -22, "values": [0, 0.5, 1, 1.5, 2], "title": null}},
        "detail": {"field": "peak"}}},
      {"mark": {"type": "line", "color": "black", "strokeWidth": 1.1, "strokeDash": [4, 2.5], "interpolate": "monotone"}, "encoding": {
        "x": {"field": "x", "type": "quantitative", "scale": {"domain": [0, 100], "range": [22, 239], "nice": false, "zero": false}, "axis": {"orient": "top", "offset": -17, "values": [0, 20, 40, 60, 80, 100], "labels": false, "title": null}},
        "y": {"field": "s1", "type": "quantitative", "scale": {"domain": [0, 2.2], "range": [192, 17], "nice": false, "zero": false}, "axis": {"orient": "right", "offset": -18, "values": [0, 0.5, 1, 1.5, 2], "labels": false, "title": null}}}}
     ], "resolve": {"axis": {"x": "independent", "y": "independent"}}},
     {"width": 2, "height": 214, "data": {"values": []}, "mark": "text", "encoding": {"text": {"value": ""}}, "view": {"fill": "black", "stroke": null}},
     {"width": 258, "height": 214, "data": {"name": "curves"}, "transform": [{"filter": "datum.r == 3"}], "layer": [
      {"transform": [{"fold": ["a", "c", "m2"], "as": ["peak", "val"]}], "mark": {"type": "line", "color": "black", "strokeWidth": 1.1, "interpolate": "monotone"}, "encoding": {
        "x": {"field": "x", "type": "quantitative", "scale": {"domain": [0, 100], "range": [22, 240], "nice": false, "zero": false}, "axis": {"orient": "bottom", "offset": -22, "values": [0, 20, 40, 60, 80, 100], "title": null}},
        "y": {"field": "val", "type": "quantitative", "scale": {"domain": [0, 2.2], "range": [192, 17], "nice": false, "zero": false}, "axis": {"orient": "left", "offset": -22, "values": [0, 0.5, 1, 1.5, 2], "title": null}},
        "detail": {"field": "peak"}}},
      {"mark": {"type": "line", "color": "black", "strokeWidth": 1.1, "strokeDash": [4, 2.5], "interpolate": "monotone"}, "encoding": {
        "x": {"field": "x", "type": "quantitative", "scale": {"domain": [0, 100], "range": [22, 240], "nice": false, "zero": false}, "axis": {"orient": "top", "offset": -17, "values": [0, 20, 40, 60, 80, 100], "labels": false, "title": null}},
        "y": {"field": "s2", "type": "quantitative", "scale": {"domain": [0, 2.2], "range": [192, 17], "nice": false, "zero": false}, "axis": {"orient": "right", "offset": -18, "values": [0, 0.5, 1, 1.5, 2], "labels": false, "title": null}}}}
     ], "resolve": {"axis": {"x": "independent", "y": "independent"}}},
     {"width": 2, "height": 214, "data": {"values": []}, "mark": "text", "encoding": {"text": {"value": ""}}, "view": {"fill": "black", "stroke": null}},
     {"width": 253, "height": 214, "data": {"name": "curves"}, "transform": [{"filter": "datum.r == 3"}], "layer": [
      {"transform": [{"fold": ["a", "c", "m3"], "as": ["peak", "val"]}], "mark": {"type": "line", "color": "black", "strokeWidth": 1.1, "interpolate": "monotone"}, "encoding": {
        "x": {"field": "x", "type": "quantitative", "scale": {"domain": [0, 100], "range": [21, 239], "nice": false, "zero": false}, "axis": {"orient": "bottom", "offset": -22, "values": [0, 20, 40, 60, 80, 100], "title": null}},
        "y": {"field": "val", "type": "quantitative", "scale": {"domain": [0, 2.5], "range": [192, 17], "nice": false, "zero": false}, "axis": {"orient": "left", "offset": -21, "values": [0, 0.5, 1, 1.5, 2, 2.5], "title": null}},
        "detail": {"field": "peak"}}},
      {"mark": {"type": "line", "color": "black", "strokeWidth": 1.1, "strokeDash": [4, 2.5], "interpolate": "monotone"}, "encoding": {
        "x": {"field": "x", "type": "quantitative", "scale": {"domain": [0, 100], "range": [21, 239], "nice": false, "zero": false}, "axis": {"orient": "top", "offset": -17, "values": [0, 20, 40, 60, 80, 100], "labels": false, "title": null}},
        "y": {"field": "s3", "type": "quantitative", "scale": {"domain": [0, 2.5], "range": [192, 17], "nice": false, "zero": false}, "axis": {"orient": "right", "offset": -14, "values": [0, 0.5, 1, 1.5, 2, 2.5], "labels": false, "title": null}}}}
     ], "resolve": {"axis": {"x": "independent", "y": "independent"}}}
    ]}
   ]}
  ]},
  {"spacing": 0, "hconcat": [
   {"width": 10, "height": 4, "data": {"values": []}, "mark": "text", "encoding": {"text": {"value": ""}}},
   {"width": 932, "height": 4, "data": {"values": []}, "mark": "text", "encoding": {"text": {"value": ""}}, "view": {"fill": "black", "stroke": null}}
  ]},
  {"spacing": 0, "hconcat": [
   {"width": 138, "height": 163, "data": {"values": []}, "mark": "text", "encoding": {"text": {"value": ""}}},
   {"width": 704, "height": 163,
    "data": {"values": [
     {"n": 1, "b": "Figure 24.", "t": "Levels of the factors A (selectivity of chromatograms)"},
     {"n": 2, "b": "", "t": "and C (sensitivity). The individual profiles are displayed as full"},
     {"n": 3, "b": "", "t": "curves and the synthetic chromatograms are displayed as broken"},
     {"n": 4, "b": "", "t": "curves. The analyte of interest is the second peak in all cases."},
     {"n": 5, "b": "", "t": "Units of x-axis: units of absorbance. Units of y-axis: units of time."}
    ]},
    "encoding": {
     "x": {"datum": 0, "type": "quantitative", "scale": {"domain": [0, 1]}, "axis": null},
     "y": {"field": "n", "type": "ordinal", "scale": {"type": "point", "domain": [1, 2, 3, 4, 5], "padding": 1.1}, "axis": null}
    },
    "layer": [
     {"transform": [{"filter": "datum.n > 1"}], "mark": {"type": "text", "align": "left", "baseline": "middle", "fontSize": 20}, "encoding": {"text": {"field": "t"}}},
     {"transform": [{"filter": "datum.n == 1"}], "mark": {"type": "text", "align": "left", "baseline": "middle", "fontSize": 20, "fontWeight": "bold"}, "encoding": {"text": {"field": "b"}}},
     {"transform": [{"filter": "datum.n == 1"}], "mark": {"type": "text", "align": "left", "baseline": "middle", "fontSize": 20, "dx": 101}, "encoding": {"text": {"field": "t"}}}
    ]}
  ]}
 ]}
]
}
